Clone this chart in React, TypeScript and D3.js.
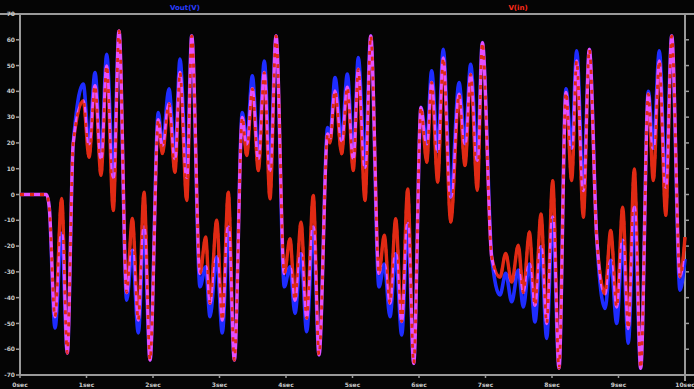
import React, { useEffect, useRef } from 'react';
import * as d3 from 'd3';

// sample times (sec) at the turning points of the traces
const times = [
  0, 0.4, 0.44, 0.526, 0.627, 0.711, 0.8, 0.952, 1.038, 1.128, 1.218, 1.304, 1.403, 1.489,
  1.604, 1.689, 1.779, 1.865, 1.955, 2.08, 2.14, 2.24, 2.33, 2.406, 2.507, 2.582,
  2.707, 2.792, 2.857, 2.958, 3.042, 3.132, 3.223, 3.343, 3.409, 3.494, 3.584, 3.674, 3.759, 3.85,
  3.975, 4.06, 4.135, 4.226, 4.311, 4.41, 4.496, 4.627, 4.662, 4.737, 4.837, 4.922, 5.012, 5.087, 5.188, 5.274,
  5.398, 5.478, 5.564, 5.649, 5.74, 5.83, 5.92, 6.03, 6.116, 6.19, 6.281, 6.365, 6.477, 6.602, 6.692, 6.777, 6.877, 6.952,
  7.093, 7.218, 7.304, 7.394, 7.493, 7.569, 7.659, 7.744, 7.835, 7.92, 8.01, 8.105,
  8.21, 8.296, 8.371, 8.471, 8.561, 8.672, 8.797, 8.883, 8.973, 9.063, 9.147, 9.237, 9.334,
  9.448, 9.523, 9.614, 9.71, 9.8, 9.925, 10,
];

const blueValues = [
  0, 0, -5, -51.8, -15, -61.5, 19.7, 42.8, 19.7, 47.3, 14, 54.4, 6.7, 63.4,
  -41, -21.6, -53.7, -12.6, -64.2, 31.8, 19, 41, 14, 52.5, 6.7, 61.5,
  -35.8, -28, -47.4, -24.2, -53.7, -12.6, -64.2, 31.8, 19.7, 46, 14, 51.8, 9.3, 61.5,
  -35.8, -28, -46.1, -23, -53.2, -12.6, -62.2, 26, 22, 45.4, 21, 46.7, 14, 53.1, 10.6, 61.5,
  -35.8, -27, -47.4, -23, -54.5, -11.3, -65.5, 33.8, 19.7, 48, 16.8, 56.3, -1, 43.4, 19.7, 50.5, 13.3, 58.9,
  -24.2, -39, -30.6, -41.6, -29.3, -43.6, -27, -49.4, -20.3, -55.8, -8.7, -67.4,
  41, 18, 55.7, 1.6, 56.3, -16.5, -44.2, -25.5, -50, -17.8, -57.7, -5, -67.4,
  40, 18, 55.7, 2.9, 61.5, -37.1, -25,
];

const redValues = [
  0, 0, -5, -47.4, -1.5, -61.5, 19.7, 36.4, 14.4, 42.2, 7.4, 49.9, -6.2, 63.4,
  -38, -9.3, -48.7, 0.9, -64.2, 29, 15.9, 35.2, 8.6, 47.3, -2.3, 61.5,
  -30.6, -16.5, -42.2, -10, -48.7, 0.9, -64.2, 29.9, 15.1, 41, 9.3, 47.3, -1.7, 61.5,
  -30.6, -17.1, -41, -10.7, -48, -0.4, -62.2, 23.5, 20, 40.2, 15.8, 41.6, 9.3, 48.6, -2.3, 61.5,
  -30.6, -15.8, -42.2, -9.4, -49.3, 2.2, -65.5, 33.8, 12.5, 43.5, 4.8, 53, -10.7, 38.9, 11.2, 46.6, 1.6, 58.9,
  -24.2, -32, -22.9, -34, -19.7, -38, -14.5, -43, -7.5, -50, 5.4, -67.4,
  39.6, 5.4, 51.8, -8.8, 56.3, -16.5, -38.5, -13.9, -43.6, -4.9, -52, 9.9, -67.4,
  39, 5.4, 51.8, -8.1, 61.5, -31.9, -16.5,
];

const yTicks = [70, 60, 50, 40, 30, 20, 10, 0, -10, -20, -30, -40, -50, -60, -70];
const xTicks = [0, 1, 2, 3, 4, 5, 6, 7, 8, 9, 10];
const xTickLabels = ['0sec', '1sec', '2sec', '3sec', '4sec', '5sec', '6sec', '7sec', '8sec', '9sec', '10sec'];
const legendNames = ['Vout(V)', 'V(in)'];

const App = () => {
  const svgRef = useRef(null);

  useEffect(() => {
    const svg = d3.select(svgRef.current);
    svg.selectAll('*').remove();

    const width = 694;
    const height = 389;
    const margin = { top: 14, right: 9, bottom: 14, left: 20 };

    svg.attr('width', width).attr('height', height);

    svg.append('rect')
      .attr('width', width)
      .attr('height', height)
      .attr('fill', '#050505');

    const x = d3.scaleLinear().domain([0, 10]).range([margin.left, width - margin.right]);
    const y = d3.scaleLinear().domain([-70, 70]).range([height - margin.bottom, margin.top]);

    const axisColor = '#9a9a9a';

    // frame lines
    svg.append('line')
      .attr('x1', 0).attr('x2', width)
      .attr('y1', y(70)).attr('y2', y(70))
      .attr('stroke', axisColor).attr('stroke-width', 2);
    svg.append('line')
      .attr('x1', margin.left).attr('x2', width)
      .attr('y1', y(-70)).attr('y2', y(-70))
      .attr('stroke', axisColor).attr('stroke-width', 2);
    svg.append('line')
      .attr('x1', x(0)).attr('x2', x(0))
      .attr('y1', y(70)).attr('y2', y(-70))
      .attr('stroke', axisColor).attr('stroke-width', 2);
    svg.append('line')
      .attr('x1', x(10)).attr('x2', x(10))
      .attr('y1', y(70)).attr('y2', y(-70) + 6)
      .attr('stroke', axisColor).attr('stroke-width', 2);

    // left / right ticks and labels
    const yg = svg.append('g');
    yg.selectAll('line.l')
      .data(yTicks)
      .enter().append('line')
      .attr('x1', x(0) - 4).attr('x2', x(0))
      .attr('y1', d => y(d)).attr('y2', d => y(d))
      .attr('stroke', axisColor).attr('stroke-width', 1.5);
    yg.selectAll('line.r')
      .data(yTicks)
      .enter().append('line')
      .attr('x1', x(10)).attr('x2', x(10) + 4)
      .attr('y1', d => y(d)).attr('y2', d => y(d))
      .attr('stroke', axisColor).attr('stroke-width', 1.5);
    yg.selectAll('text')
      .data(yTicks)
      .enter().append('text')
      .attr('x', x(0) - 5)
      .attr('y', d => y(d))
      .attr('dy', '0.35em')
      .attr('text-anchor', 'end')
      .attr('fill', '#c8c8c8')
      .style('font-family', 'DejaVu Sans, sans-serif')
      .style('font-size', '6px')
      .style('font-weight', 'bold')
      .text(d => String(d));

    // bottom ticks and labels
    const xg = svg.append('g');
    xg.selectAll('line')
      .data(xTicks)
      .enter().append('line')
      .attr('x1', d => x(d)).attr('x2', d => x(d))
      .attr('y1', y(-70)).attr('y2', y(-70) + 3)
      .attr('stroke', axisColor).attr('stroke-width', 1.5);
    xg.selectAll('text')
      .data(xTicks)
      .enter().append('text')
      .attr('x', d => x(d))
      .attr('y', height - 2)
      .attr('text-anchor', 'middle')
      .attr('fill', '#c8c8c8')
      .style('font-family', 'DejaVu Sans, sans-serif')
      .style('font-size', '6px')
      .style('font-weight', 'bold')
      .text((d, i) => xTickLabels[i]);

    // legend labels
    svg.append('text')
      .attr('x', 185).attr('y', 10)
      .attr('text-anchor', 'middle')
      .attr('fill', '#2a3cff')
      .style('font-family', 'DejaVu Sans, sans-serif')
      .style('font-size', '7px')
      .style('font-weight', 'bold')
      .text(legendNames[0]);
    svg.append('text')
      .attr('x', 518).attr('y', 10)
      .attr('text-anchor', 'middle')
      .attr('fill', '#ff2a1a')
      .style('font-family', 'DejaVu Sans, sans-serif')
      .style('font-size', '7px')
      .style('font-weight', 'bold')
      .text(legendNames[1]);

    const idx = d3.range(times.length);
    const blueLine = d3.line()
      .x(i => x(times[i]))
      .y(i => y(blueValues[i]))
      .curve(d3.curveMonotoneX);
    const redLine = d3.line()
      .x(i => x(times[i]))
      .y(i => y(redValues[i]))
      .curve(d3.curveMonotoneX);

    const plot = svg.append('g').style('isolation', 'isolate');

    plot.append('path')
      .attr('d', blueLine(idx))
      .attr('fill', 'none')
      .attr('stroke', '#1e2cff')
      .attr('stroke-width', 3.6);

    // red over blue blends to magenta where the traces overlap
    plot.append('path')
      .attr('d', redLine(idx))
      .attr('fill', 'none')
      .attr('stroke', '#e02a14')
      .attr('stroke-width', 3.4)
      .style('mix-blend-mode', 'screen');

    // dashed red on top
    plot.append('path')
      .attr('d', redLine(idx))
      .attr('fill', 'none')
      .attr('stroke', '#e02a14')
      .attr('stroke-width', 2.8)
      .attr('stroke-dasharray', '4,6');
  }, []);

  return <svg ref={svgRef} style={{ position: 'fixed', left: 0, top: 0, display: 'block' }}></svg>;
};

export default App;
